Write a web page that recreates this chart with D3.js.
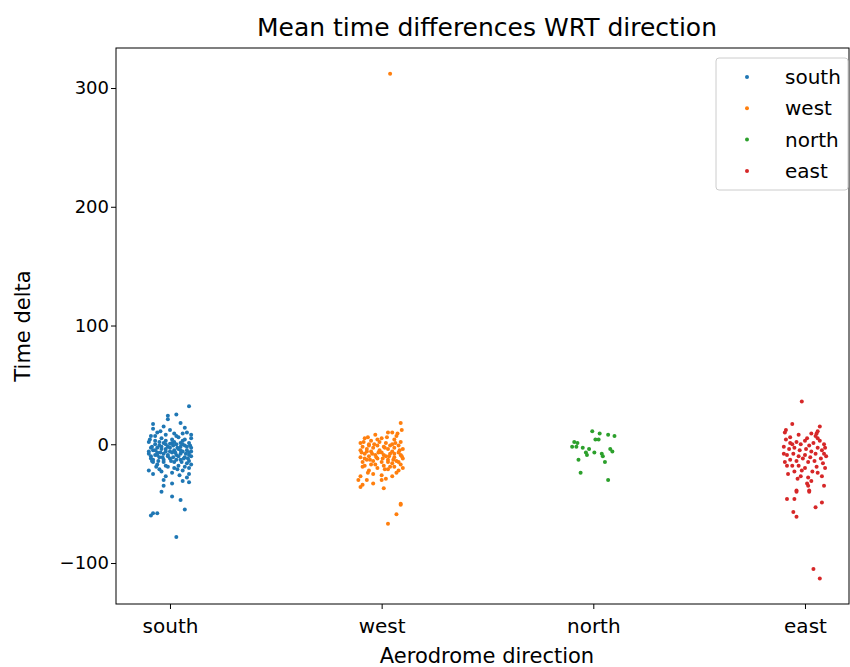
<!DOCTYPE html>
<html>
<head>
<meta charset="utf-8">
<script src="https://cdn.jsdelivr.net/npm/d3@7"></script>
<style>
  body { margin: 0; background: #fff; }
  text { font-family: "DejaVu Sans", sans-serif; fill: #000; }
</style>
</head>
<body>
<svg id="chart" width="850" height="667"></svg>
<script>
// categories and tick labels
var categories = ["south", "west", "north", "east"];
var couleurs = ["#1f77b4", "#ff7f0e", "#2ca02c", "#d62728"];
var yTicks = [-100, 0, 100, 200, 300];

// [jitter (category units), time delta]
var south = [[0.09,32],[0.03,25],[-0.01,24],[-0.01,21],[-0.08,17],[-0.08,13],[0.05,18],[0.07,14],[-0.03,15],[0.00,12],
  [-0.06,10],[0.02,9],[0.08,10],[-0.09,7],[0.04,6],[-0.04,5],[0.10,5],[-0.02,3],[0.06,3],[-0.10,2],
  [0.01,1],[0.09,1],[-0.07,0],[0.03,0],[-0.05,-1],[0.07,-1],[-0.01,-2],[0.05,-2],[-0.09,-3],[0.00,-3],
  [0.10,-3],[-0.04,-4],[0.04,-4],[-0.08,-5],[0.02,-5],[0.08,-5],[-0.02,-6],[0.06,-6],[-0.06,-7],[0.01,-7],
  [0.09,-7],[-0.10,-8],[-0.03,-8],[0.05,-8],[-0.07,-9],[0.03,-9],[0.10,-10],[-0.01,-10],[0.07,-11],[-0.05,-11],
  [0.00,-12],[-0.09,-12],[0.05,-13],[-0.08,-13],[0.09,-14],[-0.03,-15],[0.02,-15],[0.08,-16],[-0.06,-17],[0.04,-18],
  [-0.01,-19],[0.09,-20],[-0.05,-21],[0.06,-22],[0.01,-24],[0.09,-25],[-0.02,-27],[-0.03,-30],[0.01,-33],[0.06,-31],
  [0.09,-32],[-0.03,-35],[-0.04,-40],[0.01,-44],[0.05,-47],[0.07,-55],[-0.09,-60],[-0.08,-58],[-0.06,-58],[0.03,-78],
  [-0.095,4],[-0.07,3],[-0.05,2],[-0.03,1],[0.0,0.5],[0.02,2],[0.05,1],[0.07,4],[0.095,-1],[-0.085,-2],
  [-0.06,-3],[-0.04,-2],[-0.02,0],[0.015,-1],[0.035,-3],[0.06,0],[0.08,-2],[-0.1,-6],[-0.07,-5],[-0.045,-7],
  [-0.02,-4],[0.0,-6],[0.025,-7],[0.05,-5],[0.075,-8],[0.1,-6],[-0.09,-10],[-0.06,-9],[-0.035,-11],[-0.01,-9],
  [0.015,-11],[0.04,-10],[0.065,-12],[0.09,-9],[-0.08,-15],[-0.055,-14],[-0.03,-13],[0.005,-14],[0.03,-13],[0.055,-15],
  [0.085,-12],[-0.065,-19],[-0.02,-18],[0.02,-20],[0.07,-19],[0.1,-17],[-0.1,-22],[-0.04,-23],[0.045,-26],[0.08,-28],
  [-0.07,7],[-0.02,8],[0.03,7],[0.06,9],[-0.045,11],[0.01,4],[0.1,8],[-0.08,-25],[-0.085,-14],[0.035,-21]];

var west = [[0.04,312],[0.09,18],[0.095,12],[0.05,10],[0.03,10],[-0.03,8],[0.07,7],[-0.08,5],[0.0,5],[0.06,4],
  [-0.05,3],[0.09,2],[-0.1,1],[0.02,1],[-0.06,0],[0.05,0],[-0.02,-1],[0.08,-1],[-0.09,-2],[0.01,-2],
  [-0.04,-3],[0.06,-3],[-0.07,-4],[0.03,-4],[0.1,-4],[-0.01,-5],[-0.1,-5],[0.05,-6],[-0.05,-6],[0.08,-7],
  [0.0,-7],[-0.08,-8],[0.04,-8],[-0.03,-9],[0.09,-9],[-0.06,-10],[0.02,-10],[-0.1,-11],[0.06,-11],[-0.02,-12],
  [0.1,-12],[-0.07,-13],[0.03,-13],[-0.04,-14],[0.07,-14],[0.0,-15],[-0.09,-15],[0.05,-16],[-0.05,-17],[0.09,-17],
  [0.01,-18],[-0.08,-18],[0.06,-19],[-0.02,-20],[0.03,-21],[-0.06,-22],[0.08,-22],[-0.04,-25],[0.0,-26],[-0.1,-27],
  [0.05,-27],[-0.07,-30],[0.0,-30],[0.02,-29],[-0.04,-33],[-0.09,-34],[-0.1,-36],[0.01,-37],[0.09,-50],[0.09,-51],
  [0.07,-59],[0.03,-67],
  [-0.085,2],[-0.06,-1],[-0.035,0],[-0.01,2],[0.015,-3],[0.04,-1],[0.065,1],[0.085,-5],[-0.095,-7],[-0.07,-6],
  [-0.045,-8],[-0.015,-7],[0.01,-9],[0.035,-10],[0.06,-8],[0.095,-10],[-0.08,-12],[-0.055,-13],[-0.025,-11],[0.005,-12],
  [0.03,-15],[0.055,-13],[0.08,-15],[-0.09,-19],[-0.03,-17],[0.015,-21],[0.04,-19],[0.07,-24],[-0.065,-24],[0.1,-20],
  [-0.11,-30],[-0.02,4],[0.025,6],[-0.065,6],[0.075,9]];

var north = [[-0.005,11],[0.03,9],[0.07,8],[0.10,7],[0.01,4],[0.025,4],[-0.09,2],[-0.075,1],[-0.10,-2],[-0.08,-2],
  [-0.05,-3],[-0.02,-4],[-0.035,-7],[-0.03,-9],[0.005,-7],[0.04,-8],[0.045,-10],[0.08,-4],[0.09,-6],[-0.07,-13],
  [0.055,-15],[-0.06,-24],[0.07,-30]];

var east = [[-0.015,36],[-0.06,17],[-0.09,12],[-0.095,10],[0.07,15],[0.06,11],[0.055,9],[0.03,9],[0.05,7],[0.01,5],
  [-0.07,1],[-0.06,0],[-0.1,-8],[0.095,-3],[0.09,-8],[-0.085,-18],[-0.06,-18],[-0.03,-18],[-0.015,-22],[0.055,-19],
  [0.06,-24],[0.08,-27],[-0.035,-29],[0.015,-28],[0.01,-33],[0.015,-35],[-0.04,-39],[0.02,-39],[-0.04,-40],[0.02,-40],
  [-0.085,-46],[-0.05,-46],[0.08,-49],[0.05,-53],[-0.055,-57],[-0.04,-61],[0.04,-105],[0.07,-113],
  [-0.09,4],[-0.07,6],[-0.04,2],[-0.02,0],[0.0,3],[0.02,-1],[0.04,1],[0.07,3],[0.09,0],[-0.1,-2],
  [-0.075,-4],[-0.05,-3],[-0.025,-5],[0.005,-4],[0.03,-6],[0.06,-3],[0.08,-5],[-0.085,-9],[-0.055,-8],[-0.03,-10],
  [0.0,-9],[0.025,-11],[0.05,-8],[0.075,-12],[0.1,-10],[-0.07,-13],[-0.04,-14],[-0.01,-12],[0.015,-15],[0.045,-14],
  [0.085,-16],[-0.095,-15],[-0.05,-23],[0.0,-20],[0.035,-23],[0.095,-20],[-0.08,-25],[0.03,-31],[0.09,-35],[-0.02,-27],
  [0.06,5],[-0.03,8]];

var series = [south, west, north, east];

var marge = {haut: 48, droite: 1, bas: 63, gauche: 116};
var largeur = 850, hauteur = 667;
var svg = d3.select("#chart");

var xScale = d3.scaleLinear().domain([-0.255, 3.208]).range([marge.gauche, largeur - marge.droite]);
var yScale = d3.scaleLinear().domain([-134.5, 333.7]).range([hauteur - marge.bas, marge.haut]);

// points
series.forEach(function(pts, i) {
    svg.append("g")
        .selectAll("circle")
        .data(pts)
        .enter()
        .append("circle")
        .attr("cx", d => xScale(i + d[0]))
        .attr("cy", d => yScale(d[1]))
        .attr("r", 2)
        .style("fill", couleurs[i]);
});

// axes
var xAxis = g => g
    .attr("transform", `translate(0,${hauteur - marge.bas})`)
    .call(d3.axisBottom(xScale).tickValues([0, 1, 2, 3]).tickFormat(i => categories[i]).tickSize(5).tickPadding(10).tickSizeOuter(0));
var yAxis = g => g
    .attr("transform", `translate(${marge.gauche},0)`)
    .call(d3.axisLeft(yScale).tickValues(yTicks).tickFormat(d => d < 0 ? "\u2212" + Math.abs(d) : d).tickSize(5).tickPadding(2).tickSizeOuter(0));

var gx = svg.append("g").call(xAxis);
var gy = svg.append("g").call(yAxis);
gx.selectAll(".tick text").style("font-size", "20px").style("font-family", "DejaVu Sans, sans-serif");
gy.selectAll(".tick text").style("font-size", "18px").style("font-family", "DejaVu Sans, sans-serif");
svg.selectAll(".domain").remove();

// frame
svg.append("rect")
    .attr("x", marge.gauche).attr("y", marge.haut)
    .attr("width", largeur - marge.droite - marge.gauche)
    .attr("height", hauteur - marge.bas - marge.haut)
    .style("fill", "none").style("stroke", "#000").style("stroke-width", 1);

// texts
svg.append("text")
    .attr("x", 487).attr("y", 36)
    .style("text-anchor", "middle").style("font-size", "25px")
    .text("Mean time differences WRT direction");
svg.append("text")
    .attr("x", 487).attr("y", 663)
    .style("text-anchor", "middle").style("font-size", "21px")
    .text("Aerodrome direction");
svg.append("text")
    .attr("transform", `translate(30,326) rotate(-90)`)
    .style("text-anchor", "middle").style("font-size", "21px")
    .text("Time delta");

// legend
var legende = svg.append("g").attr("transform", "translate(716,58)");
legende.append("rect")
    .attr("width", 132).attr("height", 132).attr("rx", 3)
    .style("fill", "#fff").style("fill-opacity", 0.8)
    .style("stroke", "#ccc").style("stroke-width", 1);
categories.forEach(function(c, i) {
    legende.append("circle")
        .attr("cx", 31).attr("cy", 19 + i * 31.3).attr("r", 2)
        .style("fill", couleurs[i]);
    legende.append("text")
        .attr("x", 69).attr("y", 19 + i * 31.3).attr("dy", "0.35em")
        .style("font-size", "20px")
        .text(c);
});
</script>
</body>
</html>
